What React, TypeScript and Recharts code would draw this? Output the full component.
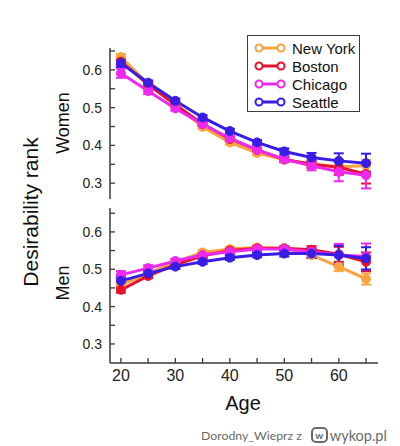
import React from "react";
import { LineChart, Line, XAxis, YAxis, ErrorBar } from "recharts";

const ages = [20, 25, 30, 35, 40, 45, 50, 55, 60, 65];
const cities = ["New York", "Boston", "Chicago", "Seattle"];
const colors = ["#F9A43F", "#E8112D", "#EE28EE", "#371DE6"];

// women, by city
const womenNY = [0.634, 0.563, 0.507, 0.449, 0.408, 0.38, 0.362, 0.351, 0.343, 0.347];
const womenBOS = [0.622, 0.561, 0.508, 0.457, 0.417, 0.388, 0.363, 0.35, 0.342, 0.324];
const womenCHI = [0.591, 0.544, 0.498, 0.456, 0.419, 0.388, 0.363, 0.346, 0.33, 0.321];
const womenSEA = [0.618, 0.566, 0.518, 0.474, 0.438, 0.408, 0.384, 0.368, 0.359, 0.353];
const womenErr = [
  [0.008, 0.006, 0.006, 0.006, 0.006, 0.006, 0.006, 0.008, 0.012, 0.015],
  [0.008, 0.006, 0.006, 0.006, 0.006, 0.006, 0.006, 0.01, 0.02, 0.025],
  [0.012, 0.008, 0.006, 0.006, 0.006, 0.006, 0.008, 0.012, 0.025, 0.035],
  [0.01, 0.006, 0.006, 0.006, 0.006, 0.006, 0.008, 0.012, 0.02, 0.025],
];

// men, by city
const menNY = [0.458, 0.489, 0.52, 0.545, 0.554, 0.558, 0.556, 0.538, 0.507, 0.474];
const menBOS = [0.445, 0.482, 0.512, 0.536, 0.55, 0.556, 0.556, 0.552, 0.54, 0.52];
const menCHI = [0.485, 0.503, 0.522, 0.538, 0.547, 0.554, 0.554, 0.547, 0.538, 0.534];
const menSEA = [0.469, 0.489, 0.507, 0.52, 0.531, 0.538, 0.542, 0.542, 0.538, 0.529];
const menErr = [
  [0.008, 0.006, 0.006, 0.006, 0.006, 0.006, 0.006, 0.008, 0.012, 0.015],
  [0.008, 0.006, 0.006, 0.006, 0.006, 0.006, 0.006, 0.01, 0.02, 0.025],
  [0.01, 0.008, 0.006, 0.006, 0.006, 0.006, 0.008, 0.012, 0.03, 0.035],
  [0.01, 0.006, 0.006, 0.006, 0.006, 0.006, 0.008, 0.012, 0.025, 0.03],
];

const xTicks = [20, 25, 30, 35, 40, 45, 50, 55, 60, 65];
const yTicks = [0.3, 0.35, 0.4, 0.45, 0.5, 0.55, 0.6, 0.65];

const buildRows = (series: number[][], errs: number[][]) =>
  ages.map((age, i) => {
    const row: any = { age };
    series.forEach((s, k) => {
      row["c" + k] = s[i];
      row["e" + k] = errs[k][i];
    });
    return row;
  });

const womenData = buildRows([womenNY, womenBOS, womenCHI, womenSEA], womenErr);
const menData = buildRows([menNY, menBOS, menCHI, menSEA], menErr);

const FONT = "'Liberation Sans', Arial, sans-serif";
const FRAME = "#3a3a3a";
const isMajor = (v: number, step: number) =>
  Math.abs(v / step - Math.round(v / step)) < 1e-6;

const BottomTick = (showLabel: boolean) => (props: any) => {
  const { x, y, payload } = props;
  const v = payload.value;
  return (
    <g>
      <line x1={x} x2={x} y1={y} y2={y - 5} stroke={FRAME} strokeWidth={1.3} />
      {showLabel && isMajor(v, 10) && (
        <text x={x} y={y + 18} textAnchor="middle" fontSize={16} fill="#222" fontFamily={FONT}>
          {v}
        </text>
      )}
    </g>
  );
};

const TopTick = (props: any) => {
  const { x, y } = props;
  return <line x1={x} x2={x} y1={y} y2={y + 5} stroke={FRAME} strokeWidth={1.3} />;
};

const LeftTick = (props: any) => {
  const { x, y, payload } = props;
  const v = payload.value;
  return (
    <g>
      <line x1={x} x2={x + 5} y1={y} y2={y} stroke={FRAME} strokeWidth={1.3} />
      {isMajor(v, 0.1) && (
        <text x={x - 8} y={y + 5} textAnchor="end" fontSize={14} fill="#222" fontFamily={FONT}>
          {v.toFixed(1)}
        </text>
      )}
    </g>
  );
};

const RightTick = (props: any) => {
  const { x, y } = props;
  return <line x1={x} x2={x - 5} y1={y} y2={y} stroke={FRAME} strokeWidth={1.3} />;
};

const Panel = ({ data, domain, height, margin, bottomHeight, labels }: any) => (
  <LineChart width={400} height={height} data={data} margin={margin} style={{ fontFamily: FONT }}>
    <XAxis
      dataKey="age"
      type="number"
      domain={[18, 67.2]}
      ticks={xTicks}
      interval={0}
      allowDataOverflow
      height={bottomHeight}
      tickSize={0}
      tickMargin={0}
      tick={BottomTick(labels)}
      axisLine={{ stroke: FRAME, strokeWidth: 1.5 }}
    />
    <XAxis
      xAxisId="top"
      orientation="top"
      dataKey="age"
      type="number"
      domain={[18, 67.2]}
      ticks={xTicks}
      interval={0}
      allowDataOverflow
      height={0}
      tickSize={0}
      tickMargin={0}
      tick={TopTick}
      axisLine={{ stroke: FRAME, strokeWidth: 1.5 }}
    />
    <YAxis
      type="number"
      domain={domain}
      ticks={yTicks}
      interval={0}
      allowDataOverflow
      width={110}
      tickSize={0}
      tickMargin={0}
      tick={LeftTick}
      axisLine={{ stroke: FRAME, strokeWidth: 1.5 }}
    />
    <YAxis
      yAxisId="r"
      orientation="right"
      type="number"
      domain={domain}
      ticks={yTicks}
      interval={0}
      allowDataOverflow
      width={0}
      tickSize={0}
      tickMargin={0}
      tick={RightTick}
      axisLine={{ stroke: FRAME, strokeWidth: 1.5 }}
    />
    {cities.map((c, k) => (
      <Line
        key={c}
        type="linear"
        dataKey={"c" + k}
        name={c}
        stroke={colors[k]}
        strokeWidth={3}
        dot={{ r: 4.5, fill: colors[k], stroke: colors[k], strokeWidth: 1 }}
        activeDot={false}
        isAnimationActive={false}
      >
        <ErrorBar dataKey={"e" + k} width={5} stroke={colors[k]} strokeWidth={2} direction="y" />
      </Line>
    ))}
  </LineChart>
);

const Legend = () => (
  <div
    style={{
      position: "absolute",
      left: 247,
      top: 35,
      width: 113,
      height: 77,
      background: "#fff",
      border: `1.3px solid ${FRAME}`,
      fontFamily: FONT,
      fontSize: 15,
      color: "#111",
      padding: "3px 0 0 0",
      boxSizing: "border-box",
    }}
  >
    {cities.map((c, k) => (
      <div key={c} style={{ display: "flex", alignItems: "center", height: 18, marginLeft: 6 }}>
        <svg width={32} height={12} style={{ marginRight: 6 }}>
          <line x1={5} x2={27} y1={6} y2={6} stroke={colors[k]} strokeWidth={3} />
          <circle cx={5} cy={6} r={3.5} fill="#fff" stroke={colors[k]} strokeWidth={2} />
          <circle cx={27} cy={6} r={3.5} fill="#fff" stroke={colors[k]} strokeWidth={2} />
        </svg>
        <span>{c}</span>
      </div>
    ))}
  </div>
);

const rotated = (text: string, cx: number, cy: number, size: number) => (
  <div
    style={{
      position: "absolute",
      left: cx,
      top: cy,
      transform: "translate(-50%, -50%) rotate(-90deg)",
      whiteSpace: "nowrap",
      fontFamily: FONT,
      fontSize: size,
      color: "#111",
    }}
  >
    {text}
  </div>
);

export default function App() {
  return (
    <div
      style={{
        position: "absolute",
        left: 0,
        top: 0,
        width: 400,
        height: 446,
        background: "#fff",
        overflow: "hidden",
      }}
    >
      <div style={{ position: "absolute", left: 0, top: 0 }}>
        <Panel
          data={womenData}
          domain={[0.258, 0.658]}
          height={210}
          margin={{ top: 48, right: 22, bottom: 11, left: 0 }}
          bottomHeight={0}
          labels={false}
        />
      </div>
      <div style={{ position: "absolute", left: 0, top: 200 }}>
        <Panel
          data={menData}
          domain={[0.249, 0.664]}
          height={200}
          margin={{ top: 8, right: 22, bottom: 0, left: 0 }}
          bottomHeight={37}
          labels={true}
        />
      </div>
      {rotated("Desirability rank", 31, 212, 21)}
      {rotated("Women", 63, 123, 18)}
      {rotated("Men", 63, 283, 18)}
      <div
        style={{
          position: "absolute",
          left: 243,
          top: 403,
          transform: "translate(-50%, -50%)",
          fontFamily: FONT,
          fontSize: 20,
          color: "#111",
        }}
      >
        Age
      </div>
      <Legend />
      <div
        style={{
          position: "absolute",
          left: 201,
          top: 426,
          height: 18,
          display: "flex",
          alignItems: "center",
          fontFamily: "Lato, 'Open Sans', sans-serif",
          color: "#6a6a6a",
          whiteSpace: "nowrap",
        }}
      >
        <span style={{ fontSize: 12.3 }}>Dorodny_Wieprz z</span>
        <span
          style={{
            display: "inline-block",
            marginLeft: 9,
            width: 17,
            height: 16,
            border: "2px solid #6a6a6a",
            borderRadius: 5,
            boxSizing: "border-box",
            fontSize: 10,
            fontWeight: 700,
            lineHeight: "12px",
            textAlign: "center",
          }}
        >
          w
        </span>
        <span style={{ fontSize: 14.5, marginLeft: 2 }}>wykop.pl</span>
      </div>
    </div>
  );
}
